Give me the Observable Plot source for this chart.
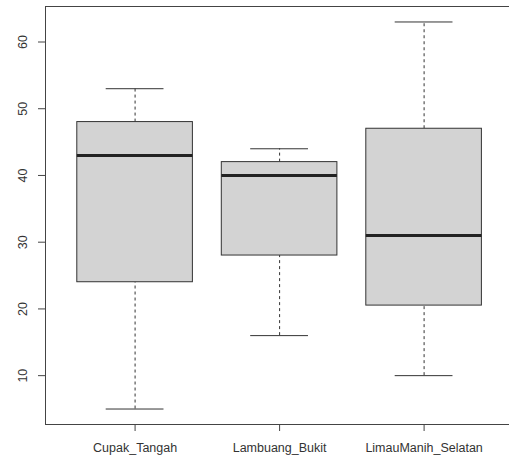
<!DOCTYPE html>
<html><head>
<meta charset="utf-8">
<script src="https://cdn.jsdelivr.net/npm/d3@7"></script>
<script src="https://cdn.jsdelivr.net/npm/@observablehq/plot@0.6"></script>
<style>body{margin:0;background:#fff}</style>
</head><body><div id="chart"></div>
<script>
const categories = ["Cupak_Tangah", "Lambuang_Bukit", "LimauManih_Selatan"];
const lowerWhisker = [5, 16, 10];
const q1 = [24, 28, 20.5];
const median = [43, 40, 31];
const q3 = [48, 42, 47];
const upperWhisker = [53, 44, 63];
const yTicks = [10, 20, 30, 40, 50, 60];

const rows = categories.map((c, i) => ({
  cat: c, pos: i + 1,
  lo: lowerWhisker[i], q1: q1[i], med: median[i], q3: q3[i], hi: upperWhisker[i]
}));

const ink = "#333";
const chart = Plot.plot({
  width: 509,
  height: 458,
  marginLeft: 45,
  marginRight: 0,
  marginTop: 6,
  marginBottom: 34,
  style: {fontFamily: "'Liberation Sans', Arial, sans-serif", fontSize: "12.5px", color: ink, background: "#fff"},
  x: {domain: [0.38, 3.591], label: null},
  y: {domain: [2.68, 65.32], label: null},
  marks: [
    Plot.ruleX(rows, {x: "pos", y1: "q3", y2: "hi", stroke: ink, strokeDasharray: "3,3"}),
    Plot.ruleX(rows, {x: "pos", y1: "lo", y2: "q1", stroke: ink, strokeDasharray: "3,3"}),
    Plot.ruleY(rows, {y: "hi", x1: d => d.pos - 0.2, x2: d => d.pos + 0.2, stroke: ink}),
    Plot.ruleY(rows, {y: "lo", x1: d => d.pos - 0.2, x2: d => d.pos + 0.2, stroke: ink}),
    Plot.rect(rows, {x1: d => d.pos - 0.4, x2: d => d.pos + 0.4, y1: "q1", y2: "q3", fill: "#d3d3d3", stroke: ink, strokeWidth: 1}),
    Plot.ruleY(rows, {y: "med", x1: d => d.pos - 0.4, x2: d => d.pos + 0.4, stroke: "#222", strokeWidth: 3}),
    Plot.frame({stroke: "#444"}),
    Plot.axisX({ticks: [1, 2, 3], tickFormat: d => categories[d - 1], tickSize: 7, tickPadding: 12, stroke: "#444", fill: ink, label: null}),
    Plot.axisY({ticks: yTicks, tickSize: 7, tickPadding: 12, tickRotate: -90, stroke: "#444", fill: ink, label: null})
  ]
});
document.getElementById("chart").appendChild(chart);
</script>
</body></html>
